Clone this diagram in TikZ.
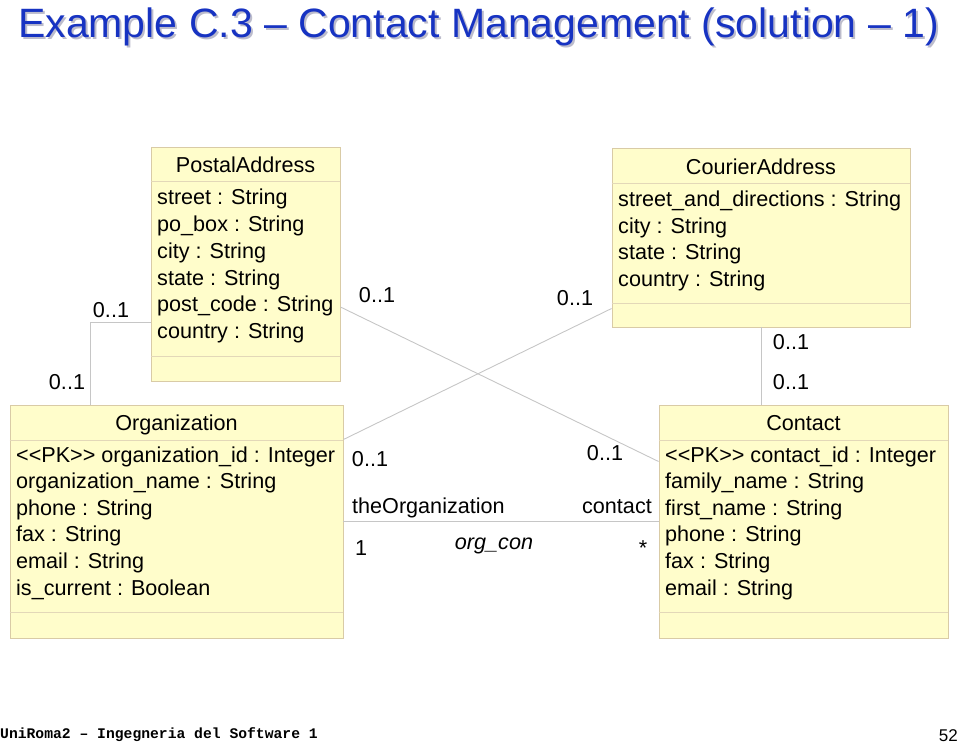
\documentclass[tikz,border=0pt]{standalone}
\usepackage{fontspec}
\setmainfont{Liberation Sans}
\newfontfamily\footmono{Liberation Mono}
\usetikzlibrary{calc}
\definecolor{boxfill}{HTML}{FFFDCB}
\definecolor{boxline}{HTML}{D9CBA6}
\definecolor{sepcol}{HTML}{E3D8B8}
\definecolor{conncol}{HTML}{C6C6C6}
\definecolor{titleblue}{HTML}{1733C2}
\definecolor{shadowcol}{HTML}{BCBCCC}
\newcommand{\pk}{<\kern0pt<PK>\kern0pt>}
\newcommand{\shadowtext}[1]{\rlap{\kern2pt\raisebox{-2pt}{\color{shadowcol}#1}}#1}
\tikzset{
  classbox/.style={draw=boxline, fill=boxfill, line width=0.9pt, inner sep=0pt},
  sepline/.style={draw=sepcol, line width=0.9pt},
  conn/.style={draw=conncol, line width=0.9pt},
  cname/.style={anchor=base, inner sep=0pt, font=\fontsize{21.6}{26}\selectfont},
  attr/.style={anchor=base west, inner sep=0pt, font=\fontsize{21.6}{26}\selectfont},
  mult/.style={anchor=center, inner sep=0pt, font=\fontsize{21.6}{26}\selectfont},
  role/.style={inner sep=0pt, font=\fontsize{21.6}{26}\selectfont},
}
\begin{document}
\begin{tikzpicture}[x=1pt,y=-1pt]
\useasboundingbox (0,0) rectangle (960,743);

% title
\node[anchor=base west, inner sep=0pt, text=titleblue, font=\fontsize{41}{48}\selectfont] (title) at (18,37.5) {\shadowtext{Example C.3 – Contact Management (solution – 1)}};

% class boxes
\node[classbox, minimum width=189pt, minimum height=234pt] (pa) at (245.5,264) {};
\node[classbox, minimum width=298pt, minimum height=179pt] (ca) at (761,237.5) {};
\node[classbox, minimum width=333pt, minimum height=233pt] (org) at (176.5,521.5) {};
\node[classbox, minimum width=289pt, minimum height=233pt] (con) at (803.5,521.5) {};

% compartments
\draw[sepline] ($(pa.north west)+(0,35)$) -- ($(pa.north east)+(0,35)$);
\draw[sepline] ($(pa.north west)+(0,210)$) -- ($(pa.north east)+(0,210)$);
\draw[sepline] ($(ca.north west)+(0,35.5)$) -- ($(ca.north east)+(0,35.5)$);
\draw[sepline] ($(ca.north west)+(0,156)$) -- ($(ca.north east)+(0,156)$);
\draw[sepline] ($(org.north west)+(0,35.5)$) -- ($(org.north east)+(0,35.5)$);
\draw[sepline] ($(org.north west)+(0,208)$) -- ($(org.north east)+(0,208)$);
\draw[sepline] ($(con.north west)+(0,35.5)$) -- ($(con.north east)+(0,35.5)$);
\draw[sepline] ($(con.north west)+(0,208)$) -- ($(con.north east)+(0,208)$);

% class names
\node[cname] (pa-name) at (245.5,173) {PostalAddress};
\node[cname] (ca-name) at (761,175) {CourierAddress};
\node[cname] (org-name) at (176.5,430) {Organization};
\node[cname] (con-name) at (803.5,430) {Contact};

% attributes
\foreach \t [count=\i] in {street : String, po\_box : String, city : String, state : String, post\_code : String, country : String}
  \node[attr] (pa-a\i) at (157,{205+26.7*(\i-1)}) {\t};
\foreach \t [count=\i] in {street\_and\_directions : String, city : String, state : String, country : String}
  \node[attr] (ca-a\i) at (618,{206.5+26.7*(\i-1)}) {\t};
\foreach \t [count=\i] in {\pk{} organization\_id : Integer, organization\_name : String, phone : String, fax : String, email : String, is\_current : Boolean}
  \node[attr] (org-a\i) at (16,{462+26.6*(\i-1)}) {\t};
\foreach \t [count=\i] in {\pk{} contact\_id : Integer, family\_name : String, first\_name : String, phone : String, fax : String, email : String}
  \node[attr] (con-a\i) at (665,{462+26.6*(\i-1)}) {\t};

% connectors
\draw[conn] ($(pa.west)+(0,58)$) -| ($(org.north west)+(81,0)$);
\draw[conn] ($(pa.east)+(0,43)$) -- ($(con.west)+(0,-60)$);
\draw[conn] ($(ca.west)+(0,71)$) -- ($(org.east)+(0,-82)$);
\draw[conn] ($(ca.south west)+(150,0)$) -- ($(con.north west)+(103,0)$);
\draw[conn] ($(org.east)+(0,-0.5)$) -- ($(con.west)+(0,-0.5)$);

% multiplicities
\node[mult] (m1) at (111,310) {0..1};
\node[mult] (m2) at (67,382) {0..1};
\node[mult] (m3) at (377,295) {0..1};
\node[mult] (m4) at (575,298) {0..1};
\node[mult] (m5) at (791,342) {0..1};
\node[mult] (m6) at (791,382) {0..1};
\node[mult] (m7) at (370,459) {0..1};
\node[mult] (m8) at (605,453) {0..1};

% association org_con
\node[role, anchor=base west] (r1) at (352,513) {theOrganization};
\node[role, anchor=base east] (r2) at (652,513) {contact};
\node[role, anchor=base west] (r3) at (355,555.5) {1};
\node[role, anchor=base, font=\fontsize{21.6}{26}\selectfont\itshape] (r4) at (494,549) {org\_con};
\node[role, anchor=base] (r5) at (643,555) {*};

% footer
\node[anchor=base west, inner sep=0pt, font=\footmono\bfseries\fontsize{14.7}{18}\selectfont] (foot) at (0,738) {UniRoma2 – Ingegneria del Software 1};
\node[anchor=base east, inner sep=0pt, font=\fontsize{17}{20}\selectfont] (page) at (958,741) {52};
\end{tikzpicture}
\end{document}
